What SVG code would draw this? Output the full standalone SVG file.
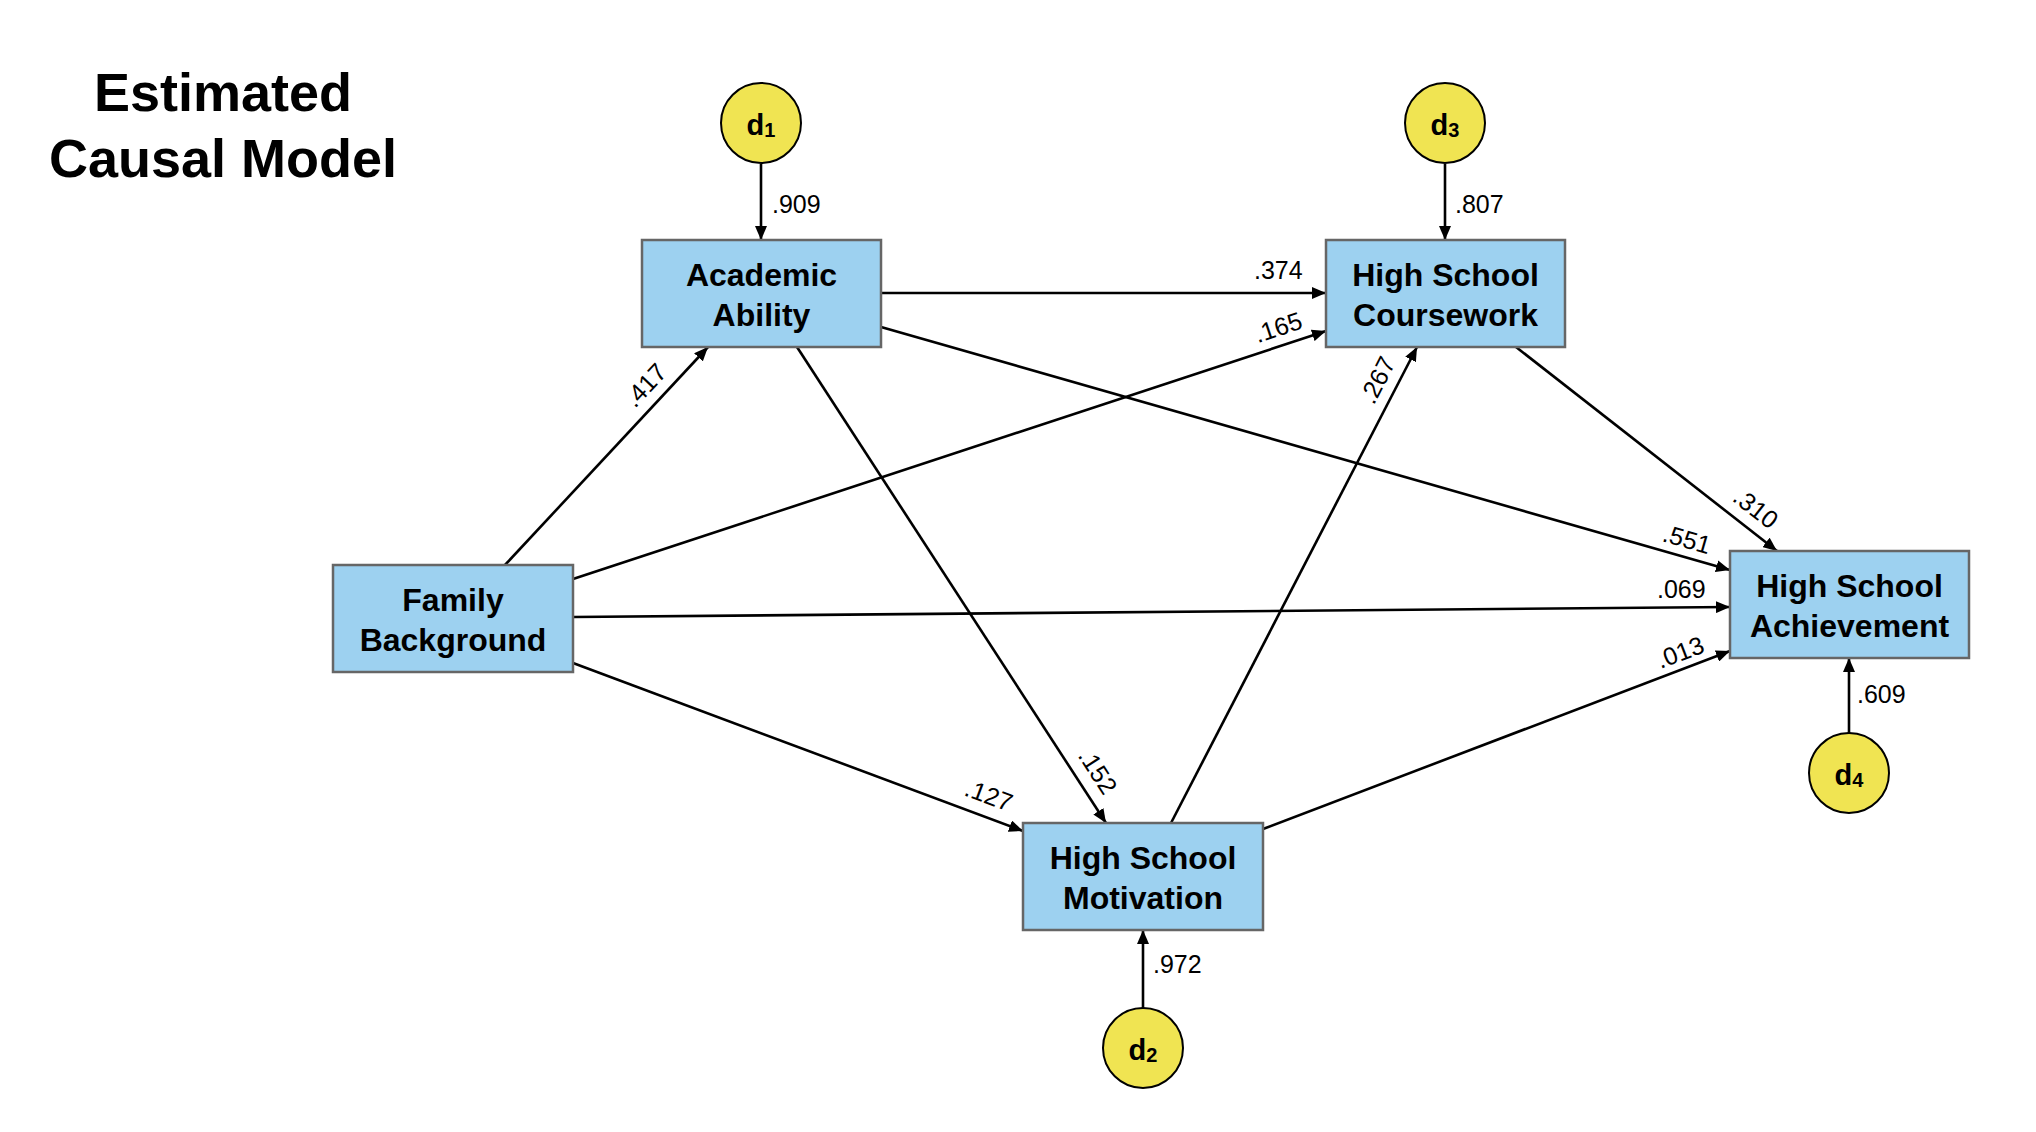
<svg xmlns="http://www.w3.org/2000/svg" width="2036" height="1132" viewBox="0 0 2036 1132">
<style>
.box{fill:#9dd1f0;stroke:#666;stroke-width:2.5}
.dc{fill:#f0e452;stroke:#000;stroke-width:2}
.bt{font-family:"Liberation Sans",Arial,sans-serif;font-weight:bold;font-size:32px;text-anchor:middle;fill:#000}
.dt{font-family:"Liberation Sans",Arial,sans-serif;font-weight:bold;font-size:29px;text-anchor:middle;fill:#000}
.title{font-family:"Liberation Sans",Arial,sans-serif;font-weight:bold;font-size:54px;text-anchor:middle;fill:#000}
.lb{font-family:"Liberation Sans",Arial,sans-serif;font-size:25px;fill:#000}
.lc{font-family:"Liberation Sans",Arial,sans-serif;font-size:25px;fill:#000;text-anchor:middle}
.e{stroke:#000;stroke-width:2.6;fill:none;marker-end:url(#arr)}
</style>
<defs>
<marker id="arr" viewBox="0 0 14 12" refX="14" refY="6" markerWidth="14" markerHeight="12" markerUnits="userSpaceOnUse" orient="auto">
<path d="M0,0 L14,6 L0,12 z" fill="#000"/>
</marker>
</defs>
<rect width="2036" height="1132" fill="#fff"/>
<g id="title">
<text class="title" x="223" y="111">Estimated</text>
<text class="title" x="223" y="177">Causal Model</text>
</g>
<g id="connectors">
<line class="e" x1="761" y1="164" x2="761" y2="240"/>
<line class="e" x1="1445" y1="164" x2="1445" y2="240"/>
<line class="e" x1="1143" y1="1008" x2="1143" y2="930"/>
<line class="e" x1="1849" y1="733" x2="1849" y2="658"/>
<line class="e" x1="505" y1="565" x2="708" y2="347"/>
<line class="e" x1="881" y1="293" x2="1326" y2="293"/>
<line class="e" x1="573" y1="579" x2="1326" y2="331"/>
<line class="e" x1="881" y1="327" x2="1730" y2="570"/>
<line class="e" x1="573" y1="617" x2="1730" y2="607"/>
<line class="e" x1="1263" y1="829" x2="1730" y2="651"/>
<line class="e" x1="1516" y1="347" x2="1777" y2="551"/>
<line class="e" x1="797" y1="347" x2="1106" y2="823"/>
<line class="e" x1="573" y1="663" x2="1023" y2="831"/>
<line class="e" x1="1171" y1="823" x2="1417" y2="347"/>
</g>
<g id="labels">
<text class="lb" x="772" y="213">.909</text>
<text class="lb" x="1455" y="213">.807</text>
<text class="lb" x="1153" y="973">.972</text>
<text class="lb" x="1857" y="703">.609</text>
<text class="lb" x="1254" y="279">.374</text>
<text class="lb" x="1657" y="598">.069</text>
<text class="lc" transform="translate(645,385) rotate(-47)" x="0" y="9">.417</text>
<text class="lc" transform="translate(1278,327) rotate(-18.3)" x="0" y="9">.165</text>
<text class="lc" transform="translate(1377,380) rotate(-62.7)" x="0" y="9">.267</text>
<text class="lc" transform="translate(1687,539) rotate(16)" x="0" y="9">.551</text>
<text class="lc" transform="translate(1680,652) rotate(-20.8)" x="0" y="9">.013</text>
<text class="lc" transform="translate(1756,508) rotate(38)" x="0" y="9">.310</text>
<text class="lc" transform="translate(1098,771) rotate(57)" x="0" y="9">.152</text>
<text class="lc" transform="translate(989,795) rotate(20.5)" x="0" y="9">.127</text>
</g>
<g id="academic-ability">
<rect class="box" x="642" y="240" width="239" height="107"/>
<text class="bt" x="761.5" y="286">Academic</text>
<text class="bt" x="761.5" y="326">Ability</text>
</g>
<g id="hs-coursework">
<rect class="box" x="1326" y="240" width="239" height="107"/>
<text class="bt" x="1445.5" y="286">High School</text>
<text class="bt" x="1445.5" y="326">Coursework</text>
</g>
<g id="family-background">
<rect class="box" x="333" y="565" width="240" height="107"/>
<text class="bt" x="453" y="611">Family</text>
<text class="bt" x="453" y="651">Background</text>
</g>
<g id="hs-motivation">
<rect class="box" x="1023" y="823" width="240" height="107"/>
<text class="bt" x="1143" y="869">High School</text>
<text class="bt" x="1143" y="909">Motivation</text>
</g>
<g id="hs-achievement">
<rect class="box" x="1730" y="551" width="239" height="107"/>
<text class="bt" x="1849.5" y="597">High School</text>
<text class="bt" x="1849.5" y="637">Achievement</text>
</g>
<g id="d1">
<circle class="dc" cx="761" cy="123" r="40"/>
<text class="dt" x="761" y="135">d<tspan font-size="20" dy="2">1</tspan></text>
</g>
<g id="d3">
<circle class="dc" cx="1445" cy="123" r="40"/>
<text class="dt" x="1445" y="135">d<tspan font-size="20" dy="2">3</tspan></text>
</g>
<g id="d2">
<circle class="dc" cx="1143" cy="1048" r="40"/>
<text class="dt" x="1143" y="1060">d<tspan font-size="20" dy="2">2</tspan></text>
</g>
<g id="d4">
<circle class="dc" cx="1849" cy="773" r="40"/>
<text class="dt" x="1849" y="785">d<tspan font-size="20" dy="2">4</tspan></text>
</g>
</svg>
